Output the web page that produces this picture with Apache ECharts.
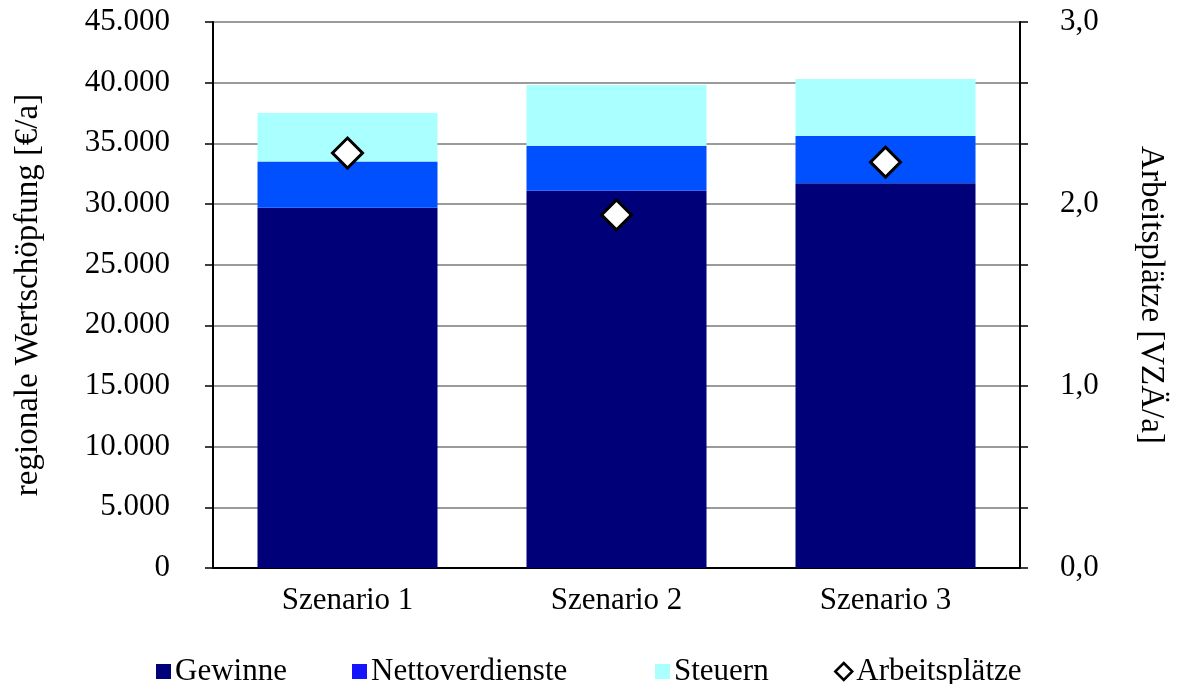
<!DOCTYPE html>
<html>
<head>
<meta charset="utf-8">
<script src="https://cdn.jsdelivr.net/npm/echarts@6/dist/echarts.min.js"></script>
<style>
  html, body { margin: 0; padding: 0; background: #ffffff; }
  #chart { width: 1180px; height: 684px; }
</style>
</head>
<body>
<div id="chart"></div>
<script>
// Szenarien und Werte
const categories = ['Szenario 1', 'Szenario 2', 'Szenario 3'];
const gewinne = [29700, 31100, 31700];          // €/a
const nettoverdienste = [3800, 3700, 3900];     // €/a
const steuern = [4000, 5000, 4700];             // €/a
const arbeitsplaetze = [2.28, 1.94, 2.23];      // VZÄ/a

const FONT = 'Liberation Serif';
const TXT = { fontFamily: FONT, fontSize: 31, color: '#000' };
const TITLE = { fontFamily: FONT, fontSize: 33, color: '#000' };

function deNumber(v) {
  return String(Math.round(v)).replace(/\B(?=(\d{3})+(?!\d))/g, '.');
}

const chart = echarts.init(document.getElementById('chart'), null, { renderer: 'canvas' });

function legendItem(name, left, style, icon) {
  return {
    left: left, top: 651,
    orient: 'horizontal',
    itemWidth: icon === 'diamond' ? 17 : 15,
    itemHeight: icon === 'diamond' ? 17 : 15,
    itemGap: 0,
    selectedMode: false,
    textStyle: Object.assign({}, TXT, { padding: [0, 0, 0, -1] }),
    data: [{ name: name, icon: icon || 'rect', itemStyle: style }]
  };
}

chart.setOption({
  animation: false,
  backgroundColor: '#ffffff',
  textStyle: { fontFamily: FONT },
  grid: { left: 213, right: 160, top: 22, bottom: 116, containLabel: false },
  legend: [
    legendItem('Gewinne', 151, { color: '#000078' }),
    legendItem('Nettoverdienste', 347, { color: '#1414ff' }),
    legendItem('Steuern', 650, { color: '#aaffff' }),
    legendItem('Arbeitsplätze', 829, { color: '#ffffff', borderColor: '#000', borderWidth: 2.5 }, 'diamond')
  ],
  xAxis: {
    type: 'category',
    data: categories,
    axisLine: { show: true, lineStyle: { color: '#000', width: 2 } },
    axisTick: { show: false },
    axisLabel: Object.assign({}, TXT, { margin: 17 }),
    splitLine: { show: false }
  },
  yAxis: [
    {
      type: 'value',
      min: 0, max: 45000, interval: 5000,
      name: 'regionale Wertschöpfung [€/a]',
      nameLocation: 'middle',
      nameRotate: 90,
      nameGap: 168,
      nameTextStyle: TITLE,
      axisLine: { show: true, lineStyle: { color: '#000', width: 2 } },
      axisTick: { show: true, inside: false, length: 8, lineStyle: { color: '#000', width: 1.5 } },
      axisLabel: Object.assign({}, TXT, { margin: 43, formatter: deNumber }),
      splitLine: { show: true, lineStyle: { color: '#7a7a7a', width: 1.5 } }
    },
    {
      type: 'value',
      min: 0, max: 3, interval: 1 / 3,
      position: 'right',
      name: 'Arbeitsplätze [VZÄ/a]',
      nameLocation: 'middle',
      nameRotate: -90,
      nameGap: 114,
      nameTextStyle: TITLE,
      axisLine: { show: true, lineStyle: { color: '#000', width: 2 } },
      axisTick: { show: true, inside: false, length: 8, lineStyle: { color: '#000', width: 1.5 } },
      axisLabel: Object.assign({}, TXT, {
        margin: 40,
        formatter: function (v) {
          const r = Math.round(v);
          return Math.abs(v - r) < 1e-6 ? r.toFixed(1).replace('.', ',') : '';
        }
      }),
      splitLine: { show: false }
    }
  ],
  series: [
    {
      name: 'Gewinne', type: 'bar', stack: 'wert', barWidth: 180,
      itemStyle: { color: '#000078' },
      data: gewinne
    },
    {
      name: 'Nettoverdienste', type: 'bar', stack: 'wert', barWidth: 180,
      itemStyle: { color: '#0050ff' },
      data: nettoverdienste
    },
    {
      name: 'Steuern', type: 'bar', stack: 'wert', barWidth: 180,
      itemStyle: { color: '#aaffff' },
      data: steuern
    },
    {
      name: 'Arbeitsplätze', type: 'scatter', yAxisIndex: 1,
      symbol: 'diamond', symbolSize: 30,
      itemStyle: { color: '#ffffff', borderColor: '#000', borderWidth: 3, opacity: 1 },
      z: 5,
      data: arbeitsplaetze
    }
  ]
});
</script>
</body>
</html>
